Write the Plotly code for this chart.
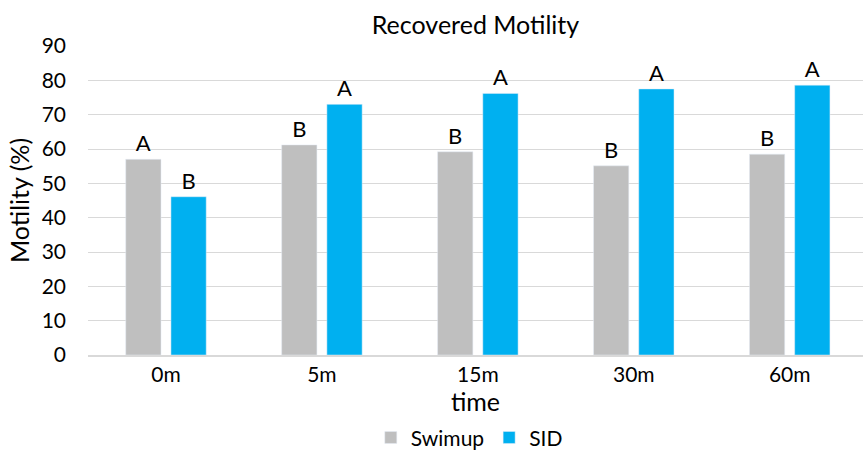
import plotly.graph_objects as go

categories = ["0m", "5m", "15m", "30m", "60m"]
swimup = [57.0, 61.2, 59.2, 55.1, 58.5]
sid = [46.1, 73.0, 76.2, 77.5, 78.6]
swimup_letters = ["A", "B", "B", "B", "B"]
sid_letters = ["B", "A", "A", "A", "A"]

FONT = "Lato, Open Sans, sans-serif"

fig = go.Figure()
fig.add_trace(go.Bar(x=categories, y=swimup, name="Swimup", marker_color="#bfbfbf",
                     text=swimup_letters, textposition="outside",
                     textfont=dict(size=22, color="#000000", family=FONT), cliponaxis=False))
fig.add_trace(go.Bar(x=categories, y=sid, name="SID", marker_color="#00b0f0",
                     text=sid_letters, textposition="outside",
                     textfont=dict(size=22, color="#000000", family=FONT), cliponaxis=False))

fig.update_layout(
    width=863, height=452,
    margin=dict(l=88, r=0, t=46, b=97, autoexpand=False),
    paper_bgcolor="white", plot_bgcolor="white",
    font=dict(family=FONT, color="#000000"),
    title=dict(text="Recovered Motility", x=0.5, xanchor="center", xref="paper", y=0.945, yanchor="middle",
               font=dict(size=25, color="#000000", family=FONT)),
    barmode="group", bargap=0.42, bargroupgap=0.22,
    legend=dict(orientation="h", x=0.492, xanchor="center", y=-0.268, yanchor="middle",
                font=dict(size=21, color="#000000", family=FONT), traceorder="normal",
                itemwidth=30),
    showlegend=True,
)
fig.update_xaxes(showgrid=False, showline=True, linecolor="#d9d9d9", linewidth=1.5,
                 range=[-0.5, 4.47],
                 tickfont=dict(size=21, color="#000000", family=FONT), ticks="", automargin=False,
                 title=dict(text="time", font=dict(size=25, color="#000000", family=FONT), standoff=6))
fig.update_yaxes(range=[0, 90], dtick=10, showgrid=True, gridcolor="#d9d9d9", gridwidth=1.2,
                 zeroline=False, showline=False, ticks="", automargin=False, ticklabelstandoff=21,
                 tickfont=dict(size=21, color="#000000", family=FONT),
                 title=dict(text="Motility (%)", font=dict(size=25, color="#000000", family=FONT), standoff=4))

fig.write_html("out.html", config={"displayModeBar": False},
               post_script="document.body.style.margin='0';document.body.style.overflow='hidden';")
